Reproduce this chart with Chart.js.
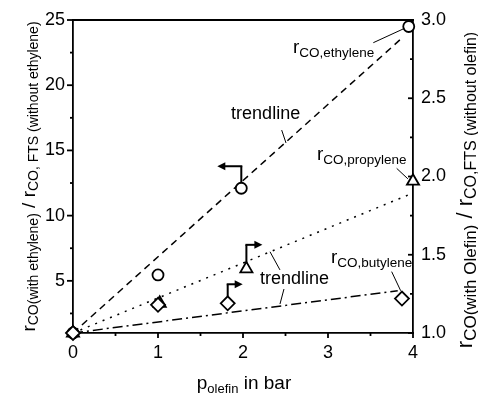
<!DOCTYPE html>
<html>
<head>
<meta charset="utf-8">
<script src="https://cdn.jsdelivr.net/npm/chart.js@4/dist/chart.umd.min.js"></script>
<style>
  html, body { margin: 0; padding: 0; background: #fff; }
  #wrap { width: 478px; height: 394px; position: relative; }
</style>
</head>
<body>
<div id="wrap"><canvas id="c"></canvas></div>
<script>
// Olefin partial pressure (bar) and relative CO consumption rates
const xTicks = [0, 1, 2, 3, 4];
const xMinorTicks = [0.5, 1.5, 2.5, 3.5];
const leftTicks = [5, 10, 15, 20, 25];
const leftMinorTicks = [2.5, 7.5, 12.5, 17.5, 22.5];
const rightTicks = [1.0, 1.5, 2.0, 2.5, 3.0];
const rightMinorTicks = [1.25, 1.75, 2.25, 2.75];

// ethylene: left axis
const ethyleneP = [0, 1.0, 1.98, 3.95];
const ethyleneR = [1.0, 5.45, 12.1, 24.5];
// propylene and butylene: right axis
const propyleneP = [0, 1.02, 2.04, 4.0];
const propyleneR = [1.0, 1.19, 1.41, 1.97];
const butyleneP = [0, 1.0, 1.82, 3.87];
const butyleneR = [1.0, 1.18, 1.19, 1.22];

// trendlines
const trendEthyleneP = [0, 3.85];
const trendEthyleneR = [1.0, 23.5];
const trendPropyleneP = [0, 3.98];
const trendPropyleneR = [1.0, 1.89];
const trendButyleneP = [0, 3.82];
const trendButyleneR = [1.0, 1.27];

const FONT = '"Liberation Sans", Arial, Helvetica, sans-serif';
const pts = (xs, ys) => xs.map((v, i) => ({ x: v, y: ys[i] }));

function font(size) { return size + 'px ' + FONT; }

function richWidth(ctx, segs) {
  let w = 0;
  for (const s of segs) { ctx.font = font(s.size); w += ctx.measureText(s.text).width; }
  return w;
}
function drawRich(ctx, x, y, segs) {
  let cx = x;
  for (const s of segs) {
    ctx.font = font(s.size);
    ctx.fillText(s.text, cx, y + (s.dy || 0));
    cx += ctx.measureText(s.text).width;
  }
}
function line(ctx, x1, y1, x2, y2) {
  ctx.beginPath(); ctx.moveTo(x1, y1); ctx.lineTo(x2, y2); ctx.stroke();
}
function arrowHead(ctx, x, y, dir) {
  // dir: +1 points right, -1 points left
  ctx.beginPath();
  ctx.moveTo(x, y);
  ctx.lineTo(x - dir * 8, y - 4);
  ctx.lineTo(x - dir * 8, y + 4);
  ctx.closePath();
  ctx.fill();
}

const framePlugin = {
  id: 'frame',
  beforeDatasetsDraw(chart) {
    const ctx = chart.ctx, ca = chart.chartArea;
    const { x, y, y2 } = chart.scales;
    ctx.save();
    ctx.strokeStyle = '#000';
    ctx.lineWidth = 1.8;
    // top border
    line(ctx, ca.left - 0.9, ca.top, ca.right + 0.9, ca.top);
    // bottom ticks, outward
    xTicks.forEach(v => { const p = x.getPixelForValue(v); line(ctx, p, ca.bottom, p, ca.bottom + 5); });
    xMinorTicks.forEach(v => { const p = x.getPixelForValue(v); line(ctx, p, ca.bottom, p, ca.bottom + 3); });
    // left ticks, outward
    leftTicks.forEach(v => { const p = y.getPixelForValue(v); line(ctx, ca.left, p, ca.left - 6, p); });
    leftMinorTicks.forEach(v => { const p = y.getPixelForValue(v); line(ctx, ca.left, p, ca.left - 3, p); });
    // right ticks, inward
    rightTicks.forEach(v => { const p = y2.getPixelForValue(v); line(ctx, ca.right, p, ca.right - 5, p); });
    rightMinorTicks.forEach(v => { const p = y2.getPixelForValue(v); line(ctx, ca.right, p, ca.right - 3, p); });
    ctx.restore();
  },
  afterDatasetsDraw(chart) {
    const ctx = chart.ctx;
    const { x, y, y2 } = chart.scales;
    const X = v => x.getPixelForValue(v);
    const Y = v => y.getPixelForValue(v);
    const Y2 = v => y2.getPixelForValue(v);
    ctx.save();
    ctx.fillStyle = '#000';
    ctx.strokeStyle = '#000';
    ctx.textBaseline = 'alphabetic';
    ctx.textAlign = 'left';

    // axis-assignment arrows above the p = 2 bar points
    ctx.lineWidth = 2;
    const eth = chart.getDatasetMeta(2).data[2];
    line(ctx, eth.x, eth.y - 5.5, eth.x, eth.y - 22);
    line(ctx, eth.x + 1, eth.y - 22, eth.x - 18, eth.y - 22);
    arrowHead(ctx, eth.x - 24, eth.y - 22, -1);
    const pro = chart.getDatasetMeta(1).data[2];
    line(ctx, pro.x, pro.y - 6, pro.x, pro.y - 24);
    line(ctx, pro.x - 1, pro.y - 24, pro.x + 10, pro.y - 24);
    arrowHead(ctx, pro.x + 16, pro.y - 24, 1);
    const but = chart.getDatasetMeta(0).data[2];
    line(ctx, but.x, but.y - 7, but.x, but.y - 19);
    line(ctx, but.x - 1, but.y - 19, but.x + 9, but.y - 19);
    arrowHead(ctx, but.x + 15, but.y - 19, 1);

    // leader lines
    ctx.lineWidth = 1;
    line(ctx, X(2.455), Y(16.56), X(2.506), Y(15.57));
    line(ctx, X(3.533), Y(23.26), X(3.90), Y(24.36));
    line(ctx, X(3.808), Y2(2.052), X(3.94), Y2(1.985));
    line(ctx, X(3.749), Y2(1.392), X(3.855), Y2(1.27));
    line(ctx, X(2.318), Y2(1.519), X(2.435), Y2(1.403));
    line(ctx, X(2.482), Y2(1.281), X(2.435), Y2(1.185));

    // labels
    ctx.font = font(18);
    ctx.fillText('trendline', X(1.86), Y(17.4));
    ctx.fillText('trendline', X(2.2), Y2(1.313));
    drawRich(ctx, X(2.588), Y(22.47), [{ text: 'r', size: 19 }, { text: 'CO,ethylene', size: 13.5, dy: 4 }]);
    drawRich(ctx, X(2.87), Y2(2.105), [{ text: 'r', size: 19 }, { text: 'CO,propylene', size: 13.5, dy: 4 }]);
    drawRich(ctx, X(3.035), Y2(1.447), [{ text: 'r', size: 19 }, { text: 'CO,butylene', size: 13.5, dy: 4 }]);
    ctx.restore();
  },
  afterDraw(chart) {
    const ctx = chart.ctx, ca = chart.chartArea;
    ctx.save();
    ctx.fillStyle = '#000';
    ctx.textBaseline = 'alphabetic';
    ctx.textAlign = 'left';

    // x title
    const xt = [{ text: 'p', size: 19 }, { text: 'olefin', size: 13, dy: 4 }, { text: ' in bar', size: 19 }];
    const xw = richWidth(ctx, xt);
    drawRich(ctx, (ca.left + ca.right) / 2 - xw / 2 + 1, 389, xt);

    // left title
    const lt = [
      { text: 'r', size: 19 }, { text: 'CO(with ethylene)', size: 14, dy: 3 },
      { text: ' / ', size: 19 },
      { text: 'r', size: 19 }, { text: 'CO, FTS (without ethylene)', size: 14, dy: 3 }
    ];
    const lw = richWidth(ctx, lt);
    ctx.save();
    ctx.translate(35, 176.5);
    ctx.rotate(-Math.PI / 2);
    drawRich(ctx, -lw / 2, 0, lt);
    ctx.restore();

    // right title
    const rt = [
      { text: 'r', size: 22 }, { text: 'CO(with Olefin)', size: 17, dy: 4 },
      { text: ' / ', size: 22 },
      { text: 'r', size: 22 }, { text: 'CO,FTS (without olefin)', size: 16, dy: 4 }
    ];
    const rw = richWidth(ctx, rt);
    ctx.save();
    ctx.translate(472, 190);
    ctx.rotate(-Math.PI / 2);
    drawRich(ctx, -rw / 2, 0, rt);
    ctx.restore();
    ctx.restore();
  }
};

const markerBase = {
  showLine: false, clip: false, borderColor: '#000', backgroundColor: '#fff',
  pointBorderColor: '#000', pointBackgroundColor: '#fff', pointBorderWidth: 1.8
};
const trendBase = {
  showLine: true, clip: false, pointRadius: 0, borderColor: '#000', borderWidth: 1.5,
  backgroundColor: 'transparent', fill: false
};

const tickFont = { family: FONT, size: 18 };
const axisBorder = { display: true, color: '#000', width: 1.8 };
const noGrid = { display: true, drawOnChartArea: false, drawTicks: false };

new Chart(document.getElementById('c'), {
  type: 'scatter',
  data: {
    datasets: [
      Object.assign({ label: 'butylene', data: pts(butyleneP, butyleneR), yAxisID: 'y2', pointStyle: 'rectRot', pointRadius: 7 }, markerBase),
      Object.assign({ label: 'propylene', data: pts(propyleneP, propyleneR), yAxisID: 'y2', pointStyle: 'triangle', pointRadius: 7 }, markerBase),
      Object.assign({ label: 'ethylene', data: pts(ethyleneP, ethyleneR), yAxisID: 'y', pointStyle: 'circle', pointRadius: 5.5 }, markerBase),
      Object.assign({ label: 'trend ethylene', data: pts(trendEthyleneP, trendEthyleneR), yAxisID: 'y', borderDash: [7, 5] }, trendBase),
      Object.assign({ label: 'trend propylene', data: pts(trendPropyleneP, trendPropyleneR), yAxisID: 'y2', borderDash: [2, 6], borderWidth: 1.8 }, trendBase),
      Object.assign({ label: 'trend butylene', data: pts(trendButyleneP, trendButyleneR), yAxisID: 'y2', borderDash: [10, 4, 2, 4] }, trendBase)
    ]
  },
  options: {
    responsive: true,
    maintainAspectRatio: false,
    animation: false,
    events: [],
    layout: { padding: { top: 20, left: 0, right: 0, bottom: 0 } },
    plugins: { legend: { display: false }, tooltip: { enabled: false } },
    scales: {
      x: {
        type: 'linear', position: 'bottom', min: 0, max: 4,
        afterBuildTicks: s => { s.ticks = xTicks.map(v => ({ value: v })); },
        afterFit: s => { s.height = 61; },
        ticks: { font: tickFont, color: '#000', padding: 9, maxRotation: 0, autoSkip: false },
        grid: noGrid, border: axisBorder
      },
      y: {
        type: 'linear', position: 'left', min: 1, max: 25,
        afterBuildTicks: s => { s.ticks = leftTicks.map(v => ({ value: v })); },
        afterFit: s => { s.width = 73; },
        ticks: { font: tickFont, color: '#000', padding: 8, autoSkip: false },
        grid: noGrid, border: axisBorder
      },
      y2: {
        type: 'linear', position: 'right', min: 1, max: 3,
        afterBuildTicks: s => { s.ticks = rightTicks.map(v => ({ value: v })); },
        afterFit: s => { s.width = 65; },
        ticks: { font: tickFont, color: '#000', padding: 8, autoSkip: false, callback: v => v.toFixed(1) },
        grid: noGrid, border: axisBorder
      }
    }
  },
  plugins: [framePlugin]
});
</script>
</body>
</html>
